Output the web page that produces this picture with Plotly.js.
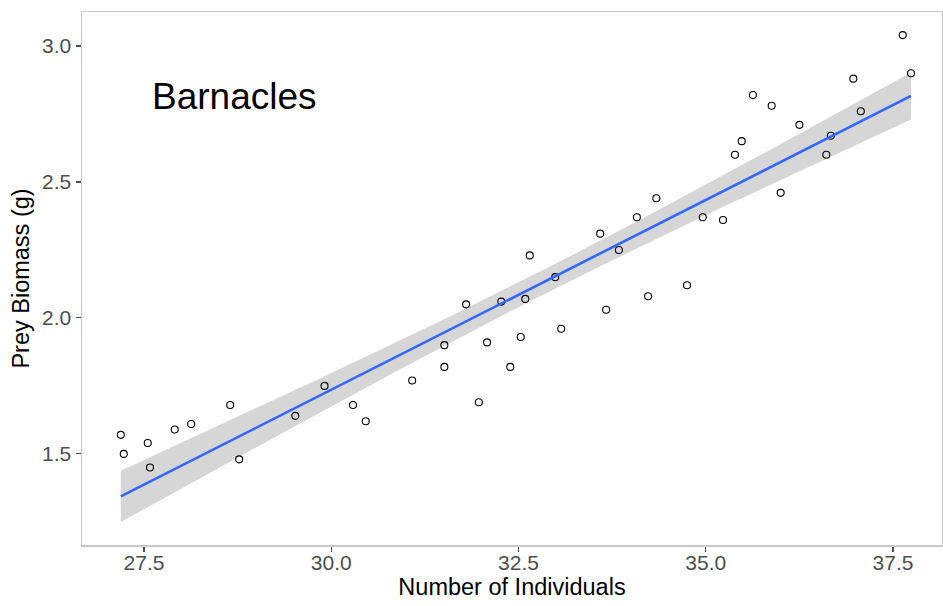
<!DOCTYPE html>
<html>
<head>
<meta charset="utf-8">
<script src="https://cdn.plot.ly/plotly-3.0.1.min.js"></script>
<style>html,body{margin:0;padding:0;background:#fff;}#chart{width:943px;height:606px;}</style>
</head>
<body>
<div id="chart"></div>
<script>
const individuals = [27.19, 27.23, 27.55, 27.58, 27.91, 28.13, 28.65, 28.77, 29.52, 29.91,
  30.29, 30.46, 31.08, 31.51, 31.51, 31.80, 31.97, 32.08, 32.27, 32.39,
  32.53, 32.59, 32.65, 32.99, 33.07, 33.59, 33.67, 33.84, 34.08, 34.23,
  34.34, 34.75, 34.96, 35.23, 35.39, 35.48, 35.63, 35.88, 36.00, 36.25,
  36.61, 36.67, 36.97, 37.07, 37.63, 37.74];
const biomass = [1.57, 1.50, 1.54, 1.45, 1.59, 1.61, 1.68, 1.48, 1.64, 1.75,
  1.68, 1.62, 1.77, 1.90, 1.82, 2.05, 1.69, 1.91, 2.06, 1.82,
  1.93, 2.07, 2.23, 2.15, 1.96, 2.31, 2.03, 2.25, 2.37, 2.08,
  2.44, 2.12, 2.37, 2.36, 2.60, 2.65, 2.82, 2.78, 2.46, 2.71,
  2.60, 2.67, 2.88, 2.76, 3.04, 2.90];
const xTicks = [27.5, 30.0, 32.5, 35.0, 37.5];
const xTickLabels = ["27.5", "30.0", "32.5", "35.0", "37.5"];
const yTicks = [1.5, 2.0, 2.5, 3.0];
const yTickLabels = ["1.5", "2.0", "2.5", "3.0"];
const panelLabel = "Barnacles";

// Linear model fit with 95% confidence band (like geom_smooth(method = "lm"))
const n = individuals.length;
const xbar = individuals.reduce((a, b) => a + b, 0) / n;
const ybar = biomass.reduce((a, b) => a + b, 0) / n;
let sxx = 0, sxy = 0;
for (let i = 0; i < n; i++) {
  sxx += (individuals[i] - xbar) ** 2;
  sxy += (individuals[i] - xbar) * (biomass[i] - ybar);
}
const slope = sxy / sxx;
const intercept = ybar - slope * xbar;
let sse = 0;
for (let i = 0; i < n; i++) {
  const r = biomass[i] - (intercept + slope * individuals[i]);
  sse += r * r;
}
const s = Math.sqrt(sse / (n - 2));
const tcrit = 2.015;
const xmin = Math.min(...individuals), xmax = Math.max(...individuals);
const fx = [], fy = [], lo = [], hi = [];
const steps = 80;
for (let k = 0; k <= steps; k++) {
  const x = xmin + (xmax - xmin) * k / steps;
  const y = intercept + slope * x;
  const se = s * Math.sqrt(1 / n + (x - xbar) ** 2 / sxx);
  fx.push(x); fy.push(y); lo.push(y - tcrit * se); hi.push(y + tcrit * se);
}

const FONT = 'Liberation Sans, Arial, sans-serif';

const traces = [
  { x: fx.concat(fx.slice().reverse()), y: hi.concat(lo.slice().reverse()),
    type: 'scatter', mode: 'lines', fill: 'toself', fillcolor: 'rgba(153,153,153,0.4)',
    line: { width: 0 }, hoverinfo: 'skip', showlegend: false },
  { x: individuals, y: biomass, type: 'scatter', mode: 'markers',
    marker: { symbol: 'circle-open', size: 7, color: '#000', line: { width: 1.1, color: '#000' } },
    showlegend: false },
  { x: fx, y: fy, type: 'scatter', mode: 'lines',
    line: { color: '#3366FF', width: 2.6 }, showlegend: false }
];

const axisCommon = {
  showgrid: false, zeroline: false, showline: true, mirror: true,
  linecolor: '#C8C8C8', linewidth: 1.5,
  ticks: 'outside', ticklen: 5, tickwidth: 1.1, tickcolor: '#4D4D4D',
  tickfont: { family: FONT, size: 21, color: '#4D4D4D' }
};

const layout = {
  width: 943, height: 606,
  margin: { l: 82, r: 1, t: 12, b: 61 },
  paper_bgcolor: '#fff', plot_bgcolor: '#fff',
  showlegend: false,
  xaxis: Object.assign({}, axisCommon, {
    range: [26.672, 38.154], tickvals: xTicks, ticktext: xTickLabels,
    ticklabelstandoff: -7,
    title: { text: 'Number of Individuals', standoff: 0,
      font: { family: FONT, size: 23.5, color: '#000' } }
  }),
  yaxis: Object.assign({}, axisCommon, {
    range: [1.165, 3.125], tickvals: yTicks, ticktext: yTickLabels,
    title: { text: 'Prey Biomass (g)', standoff: 6,
      font: { family: FONT, size: 23.5, color: '#000' } }
  }),
  annotations: [{
    x: 27.58, y: 2.816, xref: 'x', yref: 'y', text: panelLabel, showarrow: false,
    xanchor: 'left', yanchor: 'middle',
    font: { family: FONT, size: 37, color: '#000' }
  }]
};

Plotly.newPlot('chart', traces, layout, { displayModeBar: false, staticPlot: true });
</script>
</body>
</html>
